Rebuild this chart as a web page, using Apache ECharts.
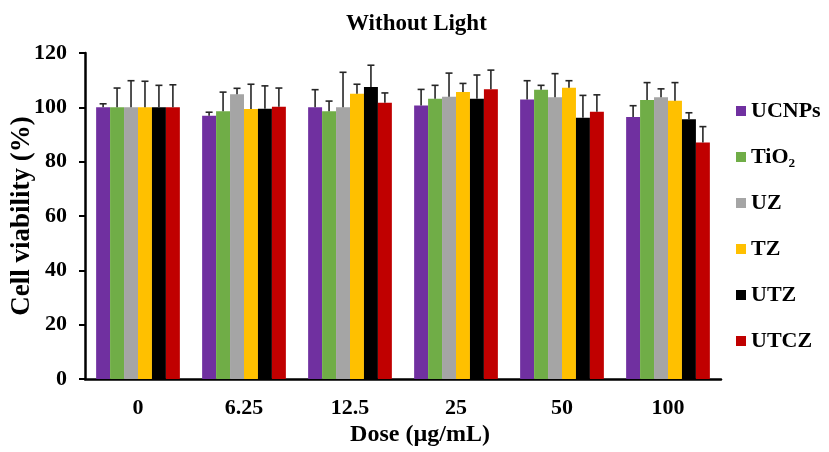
<!DOCTYPE html>
<html>
<head>
<meta charset="utf-8">
<script src="https://cdn.jsdelivr.net/npm/echarts@6/dist/echarts.min.js"></script>
<style>html,body{margin:0;padding:0;background:#fff}#c{width:829px;height:452px}</style>
</head>
<body>
<div id="c"></div>
<script>
var categories = ['0', '6.25', '12.5', '25', '50', '100'];
var seriesNames = ['UCNPs', 'TiO\u2082', 'UZ', 'TZ', 'UTZ', 'UTCZ'];
var colors = ['#7030A0', '#70AD47', '#A5A5A5', '#FFC000', '#000000', '#C00000'];

var ucnpsMean = [100, 96.9, 100.0, 100.7, 102.9, 96.4];
var ucnpsSD   = [1.3, 1.3, 6.5, 5.9, 6.9, 4.2];
var tio2Mean  = [100, 98.6, 98.6, 103.2, 106.5, 102.7];
var tio2SD    = [7.1, 7.0, 3.7, 4.9, 1.6, 6.4];
var uzMean    = [100, 104.8, 100.0, 103.9, 103.7, 103.7];
var uzSD      = [9.8, 2.2, 12.9, 8.7, 8.7, 3.1];
var tzMean    = [100, 99.4, 105.0, 105.6, 107.2, 102.4];
var tzSD      = [9.6, 9.1, 3.5, 3.2, 2.6, 6.7];
var utzMean   = [100, 99.5, 107.5, 103.2, 96.2, 95.6];
var utzSD     = [8.1, 8.4, 8.0, 8.7, 8.2, 2.4];
var utczMean  = [100, 100.2, 101.7, 106.7, 98.4, 87.1];
var utczSD    = [8.3, 6.9, 3.6, 7.0, 6.2, 5.8];

var yTicks = { min: 0, max: 120, interval: 20 };

var means = [ucnpsMean, tio2Mean, uzMean, tzMean, utzMean, utczMean];
var sds = [ucnpsSD, tio2SD, uzSD, tzSD, utzSD, utczSD];

var catGap = 0.21;
var nSeries = seriesNames.length;
var font = '"Liberation Serif", "Times New Roman", serif';

var series = [];
seriesNames.forEach(function (name, i) {
  series.push({
    name: name,
    type: 'bar',
    data: means[i],
    barGap: '0%',
    barCategoryGap: (catGap * 100) + '%',
    itemStyle: { color: colors[i] },
    z: 2
  });
});
seriesNames.forEach(function (name, i) {
  series.push({
    type: 'custom',
    name: name + '_err',
    data: means[i].map(function (m, k) { return [k, m, m + sds[i][k]]; }),
    z: 5,
    silent: true,
    renderItem: function (params, api) {
      var k = api.value(0);
      var base = api.coord([k, api.value(1)]);
      var top = api.coord([k, api.value(2)]);
      var band = api.size([1, 0])[0];
      var groupW = band * (1 - catGap);
      var barW = groupW / nSeries;
      var x = base[0] - groupW / 2 + (i + 0.5) * barW;
      var cap = 3.5;
      var st = { stroke: '#262626', lineWidth: 1.6 };
      return {
        type: 'group',
        children: [
          { type: 'line', shape: { x1: x, y1: base[1], x2: x, y2: top[1] }, style: st },
          { type: 'line', shape: { x1: x - cap, y1: top[1], x2: x + cap, y2: top[1] }, style: st }
        ]
      };
    }
  });
});

var chart = echarts.init(document.getElementById('c'));
chart.setOption({
  animation: false,
  backgroundColor: '#fff',
  textStyle: { fontFamily: font },
  title: {
    text: 'Without Light',
    left: 341,
    top: 8,
    textStyle: { fontFamily: font, fontWeight: 'bold', fontSize: 23, color: '#000' }
  },
  legend: {
    orient: 'vertical',
    left: 731,
    top: 94,
    data: seriesNames,
    icon: 'rect',
    itemWidth: 10,
    itemHeight: 10,
    itemGap: 22,
    textStyle: { fontFamily: font, fontWeight: 'bold', fontSize: 22, color: '#000', lineHeight: 24 }
  },
  grid: { left: 85, right: 108, top: 53, bottom: 73, containLabel: false, outerBoundsMode: 'none' },
  xAxis: {
    type: 'category',
    data: categories,
    name: 'Dose (\u00b5g/mL)',
    nameLocation: 'middle',
    nameGap: 44,
    nameMoveOverlap: false,
    nameTextStyle: { fontFamily: font, fontWeight: 'bold', fontSize: 24, color: '#000', padding: [0, 0, 0, 34] },
    axisLine: { lineStyle: { color: '#000', width: 2.5 } },
    axisTick: { show: false },
    axisLabel: { margin: 18, fontFamily: font, fontWeight: 'bold', fontSize: 22, color: '#000' }
  },
  yAxis: {
    type: 'value',
    min: yTicks.min,
    max: yTicks.max,
    interval: yTicks.interval,
    name: 'Cell viability (%)',
    nameLocation: 'middle',
    nameGap: 49,
    nameMoveOverlap: false,
    nameTextStyle: { fontFamily: font, fontWeight: 'bold', fontSize: 27, color: '#000' },
    axisLine: { show: true, lineStyle: { color: '#000', width: 2.5 } },
    axisTick: { show: true, length: 6, lineStyle: { color: '#000', width: 2 } },
    splitLine: { show: false },
    axisLabel: { margin: 18, fontFamily: font, fontWeight: 'bold', fontSize: 22, color: '#000' }
  },
  series: series
});
</script>
</body>
</html>
